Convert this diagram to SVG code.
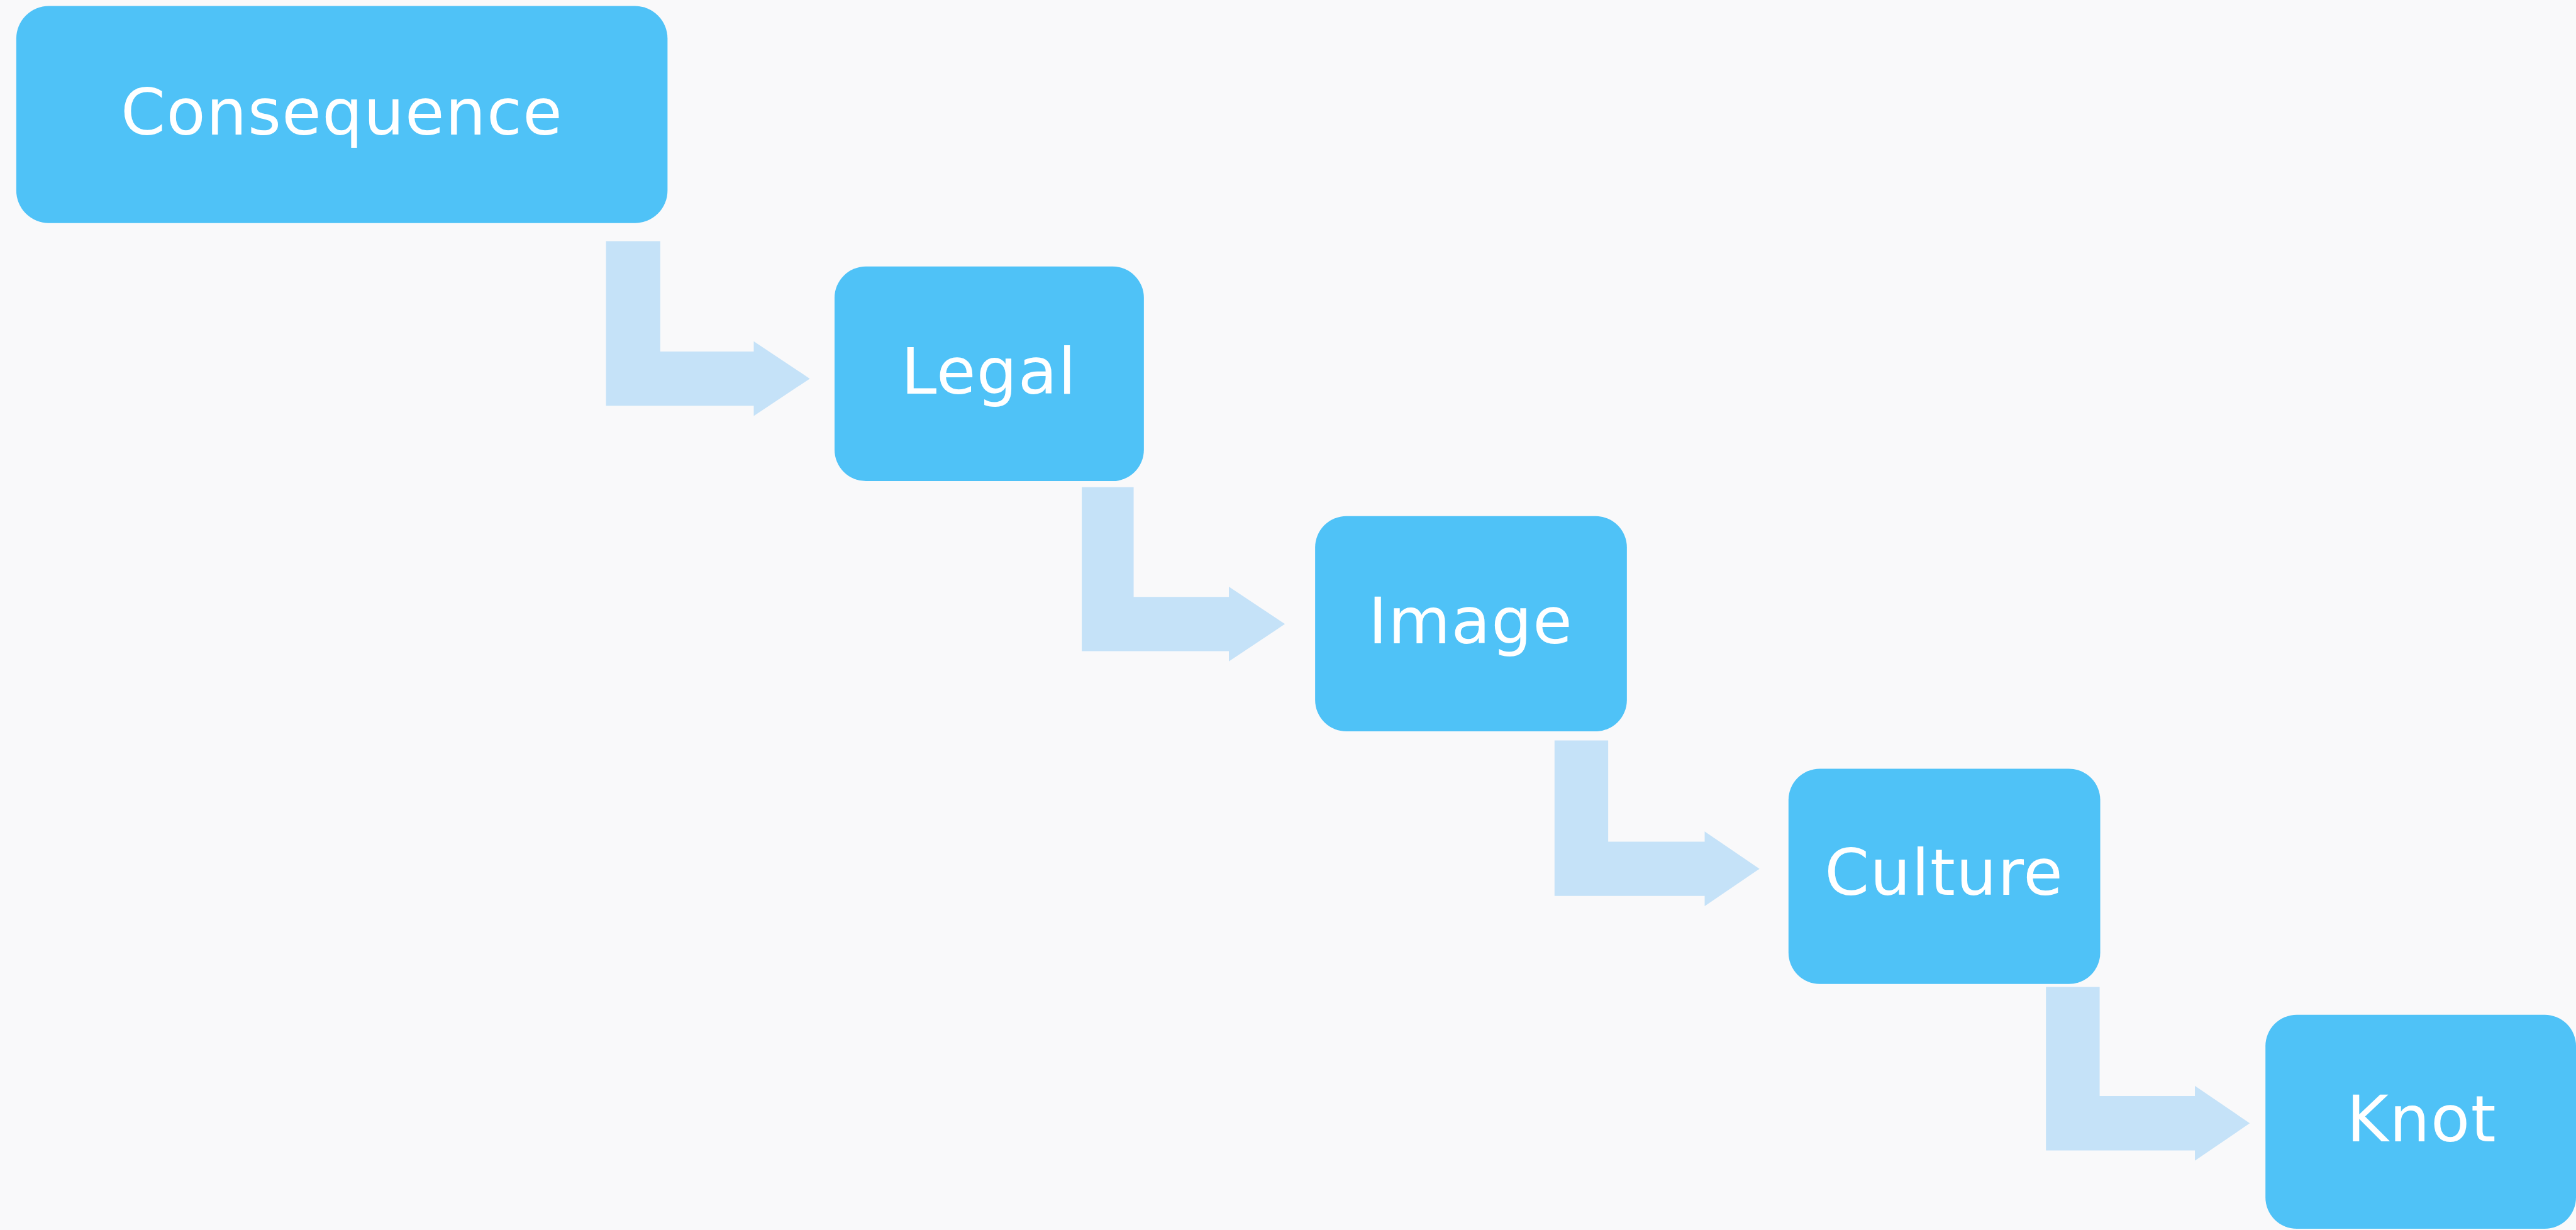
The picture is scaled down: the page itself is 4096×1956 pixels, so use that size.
<svg xmlns="http://www.w3.org/2000/svg" width="4096" height="1956" viewBox="0 0 4096 1956">
<style>
.box{fill:#4FC2F7;}
.lbl{fill:#FFFFFF;font-family:"DejaVu Sans","Liberation Sans",sans-serif;font-size:106px;text-anchor:middle;letter-spacing:1.5px;}
.arr{fill:#C5E2F8;}
</style>
<rect x="0" y="0" width="4096" height="1956" fill="#F9F9FA"/>
<g transform="scale(0.9588)">
<g id="connectors">
<path class="arr" d="M1005 400 H1095 V583 H1250 V566 L1343 628 L1250 690 V673 H1005 Z"/>
<path class="arr" d="M1794 808 H1880 V990 H2038 V973 L2131 1035 L2038 1097 V1080 H1794 Z"/>
<path class="arr" d="M2578 1228 H2667 V1396 H2827 V1379 L2918 1441 L2827 1503 V1486 H2578 Z"/>
<path class="arr" d="M3393 1637 H3482 V1818 H3640 V1801 L3731 1863 L3640 1925 V1908 H3393 Z"/>
</g>
<g id="node-consequence">
<rect class="box" x="27" y="10" width="1080" height="360" rx="54"/>
<text class="lbl" x="567" y="223">Consequence</text>
</g>
<g id="node-legal">
<rect class="box" x="1384" y="442" width="513" height="356" rx="52"/>
<text class="lbl" x="1640" y="653">Legal</text>
</g>
<g id="node-image">
<rect class="box" x="2181" y="856" width="517" height="357" rx="52"/>
<text class="lbl" x="2439" y="1067">Image</text>
</g>
<g id="node-culture">
<rect class="box" x="2966" y="1275" width="517" height="357" rx="52"/>
<text class="lbl" x="3224" y="1484">Culture</text>
</g>
<g id="node-knot">
<rect class="box" x="3757" y="1683" width="515" height="355" rx="52"/>
<text class="lbl" x="4016" y="1893">Knot</text>
</g>
</g>
</svg>
